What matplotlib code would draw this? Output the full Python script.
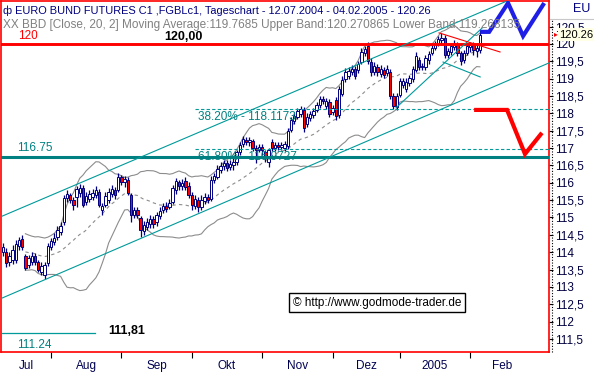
import numpy as np
import pandas as pd
import matplotlib
matplotlib.use("Agg")
import matplotlib.pyplot as plt
from matplotlib.lines import Line2D

# ---------------- data (daily candles, 12.07.2004 - 04.02.2005) ----------------
opens = [114.01,114.01,113.72,113.78,113.78,114.18,114.38,113.89,113.63,113.72,
         113.89,113.72,113.43,113.34,113.69,114.15,114.29,114.44,114.58,114.87,
         115.56,115.65,115.50,115.59,115.71,115.85,115.45,115.53,115.59,115.65,
         115.73,115.22,115.36,115.50,115.68,115.79,115.79,116.17,116.02,116.08,
         115.65,115.07,115.22,114.99,114.61,114.73,114.81,114.96,114.87,115.04,
         115.22,115.33,115.30,115.45,115.79,116.02,115.91,116.05,115.91,115.65,
         115.33,115.50,115.30,115.48,115.59,115.53,116.08,116.17,116.37,116.48,
         116.57,116.46,116.51,116.60,116.89,117.12,117.23,117.18,117.20,117.00,
         116.95,117.03,116.89,116.60,117.18,117.00,117.09,117.03,117.00,117.06,
         117.52,117.78,117.90,117.98,118.10,117.69,117.87,117.95,118.10,118.24,
         118.41,118.21,118.33,118.04,118.39,117.95,118.56,118.99,119.08,119.19,
         119.28,119.25,119.48,119.74,119.94,119.48,119.19,119.34,119.14,119.25,
         119.16,119.19,118.50,118.18,118.53,118.82,118.70,118.88,118.99,119.25,
         119.54,119.34,119.34,119.54,119.74,119.88,120.00,120.12,120.17,119.68,
         119.77,119.91,119.97,119.74,119.54,119.74,119.91,119.97,119.80,119.83]
highs = [114.27,114.12,114.01,114.21,114.35,114.44,114.50,113.95,113.92,114.01,
         113.98,113.78,113.72,113.72,114.27,114.41,114.55,114.75,114.87,115.65,
         115.79,115.71,115.59,115.91,115.97,115.94,115.73,115.79,115.82,115.91,
         115.82,115.42,115.73,115.85,115.94,115.88,116.28,116.22,116.20,116.17,
         115.71,115.30,115.30,115.04,114.90,114.99,115.07,115.04,115.16,115.30,
         115.42,115.45,115.53,115.94,116.14,116.08,116.11,116.17,116.02,115.73,
         115.65,115.59,115.65,115.71,115.68,116.20,116.28,116.51,116.60,116.66,
         116.66,116.66,116.71,116.95,117.18,117.35,117.32,117.32,117.26,117.09,
         117.12,117.12,116.95,117.00,117.26,117.18,117.18,117.18,117.20,117.58,
         117.90,118.04,118.16,118.21,118.18,118.01,118.07,118.16,118.33,118.50,
         118.50,118.44,118.41,118.24,118.47,118.79,119.08,119.31,119.34,119.39,
         119.37,119.51,119.88,119.94,120.06,119.60,119.48,119.42,119.39,119.34,
         119.39,119.28,118.59,118.59,119.02,119.02,119.02,119.11,119.37,119.77,
         119.63,119.45,119.68,119.80,119.97,120.09,120.23,120.32,120.26,119.88,
         120.03,120.12,120.06,119.80,119.83,120.03,120.06,120.06,119.97,120.40]
lows = [113.89,113.57,113.60,113.66,113.69,114.06,114.06,113.49,113.54,113.63,
        113.63,113.43,113.34,113.23,113.60,114.06,114.21,114.35,114.50,114.78,
        115.45,115.42,115.22,115.30,115.59,115.30,115.36,115.45,115.50,115.56,
        115.30,115.07,115.30,115.42,115.59,115.53,115.73,115.94,115.88,115.65,
        114.87,114.99,114.99,114.44,114.50,114.64,114.70,114.70,114.75,114.96,
        115.13,115.16,115.24,115.39,115.68,115.79,115.79,115.79,115.56,115.22,
        115.24,115.16,115.22,115.39,115.42,115.48,115.99,116.11,116.28,116.37,
        116.34,116.37,116.37,116.51,116.80,117.03,117.09,117.06,116.92,116.57,
        116.89,116.80,116.60,116.46,116.92,116.92,116.95,116.95,116.92,116.97,
        117.46,117.69,117.84,117.90,117.46,117.61,117.78,117.87,118.04,118.16,
        118.27,118.13,117.90,117.95,117.81,117.87,118.50,118.90,118.99,119.11,
        118.99,119.16,119.42,119.65,119.42,119.08,119.11,119.08,119.05,119.02,
        119.08,118.41,118.13,118.10,118.47,118.73,118.62,118.79,118.90,119.19,
        119.25,119.25,119.25,119.42,119.68,119.83,119.94,119.97,119.60,119.60,
        119.68,119.83,119.65,119.39,119.45,119.68,119.77,119.68,119.63,119.74]
closes = [114.15,113.69,113.89,114.06,114.24,114.35,114.15,113.54,113.83,113.89,
          113.72,113.49,113.60,113.63,114.18,114.32,114.41,114.64,114.75,115.56,
          115.68,115.50,115.36,115.82,115.85,115.36,115.62,115.68,115.71,115.79,
          115.36,115.33,115.62,115.73,115.82,115.65,116.17,116.02,116.11,115.71,
          115.07,115.22,115.07,114.64,114.78,114.87,114.96,114.81,115.07,115.19,
          115.33,115.24,115.42,115.85,116.05,115.91,115.99,115.88,115.65,115.36,
          115.53,115.30,115.50,115.59,115.50,116.08,116.20,116.40,116.48,116.57,
          116.43,116.54,116.60,116.89,117.09,117.26,117.18,117.23,117.00,116.95,
          117.03,116.95,116.74,116.95,117.00,117.09,117.03,117.09,117.12,117.49,
          117.81,117.92,118.07,118.13,117.58,117.90,117.98,118.07,118.24,118.41,
          118.36,118.36,117.98,118.16,117.92,118.70,118.96,119.19,119.22,119.28,
          119.08,119.42,119.77,119.86,119.51,119.19,119.37,119.19,119.28,119.11,
          119.28,118.50,118.21,118.50,118.93,118.93,118.90,119.02,119.28,119.65,
          119.34,119.37,119.60,119.71,119.88,120.00,120.14,120.17,119.68,119.80,
          119.94,120.03,119.74,119.51,119.74,119.94,119.97,119.83,119.88,120.26]

month_starts = [15, 37, 59, 81, 103, 124, 146]
month_label_pos = [7.2, 26, 48, 70, 92, 113.5, 135, 156]
month_labels = ["Jul", "Aug", "Sep", "Okt", "Nov", "Dez", "2005", "Feb"]
y_ticks = [111.5, 112, 112.5, 113, 113.5, 114, 114.5, 115, 115.5, 116, 116.5,
           117, 117.5, 118, 118.5, 119, 119.5, 120, 120.5]

# drawn analysis objects (bar index, price)
upper_channel = ([-1, 172], [115.01, 121.81])
lower_channel = ([-1, 172], [112.65, 119.51])
steep_line = ([122.8, 149.7], [118.16, 120.46])
wedge_low = ([137.5, 149.1], [119.48, 119.05])
wedge_red = ([136.25, 155.3], [120.32, 119.77])
blue_path = ([149.1, 151.9, 157.8, 162.5, 169.1], [120.35, 120.35, 121.18, 120.23, 121.18])
red_path = ([147.2, 157.5, 163.1, 168.4], [118.10, 118.10, 116.83, 117.44])
fib_levels = [118.1173, 116.9727]
fib_labels = ["38.20% - 118.1173", "61.80% - 116.9727"]
fib_start = 60
resistance = 120.00
support = 116.75
low_level = 111.67
low_level_end = 28.7
last_price = 120.26

# ---------------- styles ----------------
NAVY = "#000080"
TEAL = "#008080"
TEAL2 = "#009a9a"
GRAY = "#8c8c8c"
RED = "#ff0000"
FONT = "Liberation Sans"
plt.rcParams["font.family"] = [FONT, "DejaVu Sans"]

W, H = 594, 372
fig = plt.figure(figsize=(W / 100, H / 100), dpi=100)
fig.patch.set_facecolor("white")

def fx(x):
    return x / W

def fy(y):
    return 1 - y / H

ax = fig.add_axes([fx(1), fy(352), (549 - 1) / W, (352 - 1) / H])
ax.set_facecolor("white")
ax.set_xlim(-0.625, 170.6)
ax.set_ylim(111.124, 121.239)

idx = np.arange(len(closes))
o = np.array(opens); c = np.array(closes); hi = np.array(highs); lo = np.array(lows)

# Bollinger bands
s = pd.Series(c)
ma = s.rolling(20, min_periods=8).mean()
sd = s.rolling(20, min_periods=8).std(ddof=0)
ax.plot(idx, ma + 2 * sd, color=GRAY, lw=0.8, zorder=2)
ax.plot(idx, ma - 2 * sd, color=GRAY, lw=0.8, zorder=2)
ax.plot(idx, ma, color=GRAY, lw=0.8, ls=(0, (3, 3)), zorder=2)

# candles
ax.vlines(idx, lo, hi, color=NAVY, lw=0.9, zorder=3)
up = c >= o
body_bottom = np.minimum(o, c)
body_h = np.maximum(np.abs(c - o), 0.012)
ax.bar(idx, body_h, bottom=body_bottom, width=0.72,
       color=np.where(up, "white", RED), edgecolor=NAVY, linewidth=0.7, zorder=3.5)

# horizontal levels
ax.axhline(resistance, color=RED, lw=2.1, zorder=4)
ax.axhline(support, color=TEAL, lw=2.2, zorder=4)
for lvl in fib_levels:
    ax.plot([fib_start, 171], [lvl, lvl], color=TEAL2, lw=0.8, ls=(0, (3, 2)), zorder=4)
ax.plot([-1, low_level_end], [low_level, low_level], color=TEAL2, lw=0.9, zorder=4)

# trend lines
for ln in (upper_channel, lower_channel, steep_line, wedge_low):
    ax.plot(ln[0], ln[1], color=TEAL2, lw=0.8, zorder=4)
ax.plot(wedge_red[0], wedge_red[1], color=RED, lw=0.8, zorder=4)

# forecast arrows
ax.plot(blue_path[0], blue_path[1], color="#1e1ee6", lw=3.0, zorder=5,
        solid_joinstyle="miter", solid_capstyle="butt")
ax.plot(red_path[0], red_path[1], color=RED, lw=3.0, zorder=5,
        solid_joinstyle="miter", solid_capstyle="butt")

# level labels
ax.text(4.7, 120.24, "120", color=RED, fontsize=8.5, ha="left", va="center", zorder=6)
ax.text(50.5, 120.20, "120,00", color="black", fontsize=9, fontweight="bold",
        ha="left", va="center", zorder=6)
ax.text(4.4, 117.0, "116.75", color=TEAL, fontsize=8.5, ha="left", va="center", zorder=6)
ax.text(4.4, 111.33, "111.24", color=TEAL, fontsize=8.5, ha="left", va="center", zorder=6)
ax.text(32.8, 111.74, "111,81", color="black", fontsize=9, fontweight="bold",
        ha="left", va="center", zorder=6)
ax.text(60.8, 117.90, fib_labels[0], color=TEAL, fontsize=8.5, ha="left", va="center", zorder=6)
ax.text(60.8, 116.74, fib_labels[1], color=TEAL, fontsize=8.5, ha="left", va="center", zorder=6)

ax.text(116.9, 112.55, "\u00a9 http://www.godmode-trader.de", color="black", fontsize=8.5,
        ha="center", va="center", zorder=6,
        bbox=dict(boxstyle="square,pad=0.3", facecolor="white", edgecolor="black", lw=1.0))

# spines
for sp in ax.spines.values():
    sp.set_color(RED)
    sp.set_linewidth(1.2)

# axes ticks
ax.yaxis.tick_right()
ax.set_yticks(y_ticks)
ax.set_yticklabels([("%g" % v).replace(".", ",") for v in y_ticks])
ax.tick_params(axis="y", direction="out", length=3, width=0.8, pad=1.5,
               colors="black", labelcolor="#000040", labelsize=8.5, right=True, left=False)
for lab in ax.get_yticklabels():
    lab.set_fontfamily(FONT)

ax.set_xticks(month_starts)
ax.set_xticklabels([""] * len(month_starts))
ax.set_xticks(month_label_pos, minor=True)
ax.set_xticklabels(month_labels, minor=True)
ax.tick_params(axis="x", which="major", direction="out", length=4, width=0.8, colors="black")
ax.tick_params(axis="x", which="minor", length=0, pad=6, labelsize=8.5, labelcolor="#000050")

# right axis decorations (dotted line, header box)
fig.add_artist(Line2D([fx(551.5), fx(551.5)], [fy(352), fy(19)], color="black",
                      lw=0.8, ls=(0, (1, 1.5))))
fig.add_artist(Line2D([fx(550), fx(594)], [fy(18.5), fy(18.5)], color="#c8c8c8", lw=0.8))
fig.text(fx(573), fy(9), "EU", color=NAVY, fontsize=9, ha="left", va="center")
fig.text(fx(559), fy(34.5), "%.2f" % last_price, color="black", fontsize=8, ha="left",
         va="center", zorder=10,
         bbox=dict(boxstyle="square,pad=0.12", facecolor="#ffffe6", edgecolor="none"))
fig.text(fx(554), fy(34.5), "\u25b8", color=RED, fontsize=5.5, ha="left", va="center", zorder=11)

# header texts
fig.text(fx(3), fy(11), "\u0444 EURO BUND FUTURES C1 ,FGBLc1, Tageschart - 12.07.2004 - 04.02.2005 - 120.26",
         color=NAVY, fontsize=7.9, ha="left", va="center", zorder=10)
fig.text(fx(3), fy(25), "XX BBD [Close, 20, 2] Moving Average:119.7685 Upper Band:120.270865 Lower Band:119.268135",
         color="#808080", fontsize=8.5, ha="left", va="center", zorder=10)

fig.savefig("out.png", dpi=100)
